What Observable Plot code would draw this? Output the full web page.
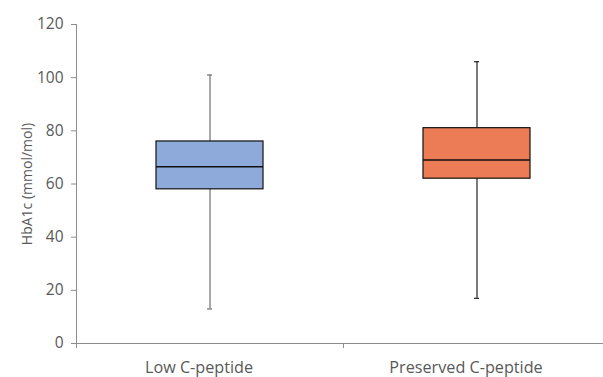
<!DOCTYPE html>
<html>
<head>
<meta charset="utf-8">
<script src="https://cdn.jsdelivr.net/npm/d3@7"></script>
<script src="https://cdn.jsdelivr.net/npm/@observablehq/plot@0.6"></script>
<style>
  html, body { margin: 0; padding: 0; background: #fff; overflow: hidden; }
  #chart { width: 603px; height: 377px; overflow: hidden; }
</style>
</head>
<body>
<div id="chart"></div>
<script>
const categories = ["Low C-peptide", "Preserved C-peptide"];
const minValues = [13, 17];
const q1Values = [58, 62];
const medianValues = [66.5, 69];
const q3Values = [76, 81];
const maxValues = [101, 106];
const colors = ["#8EAADB", "#EC7C55"];
const whiskerColors = ["#707070", "#202020"];
const yTicks = [0, 20, 40, 60, 80, 100, 120];
const yLabel = "HbA1c (mmol/mol)";

const data = categories.map((c, i) => ({
  cat: c, min: minValues[i], q1: q1Values[i], med: medianValues[i],
  q3: q3Values[i], max: maxValues[i], boxColor: colors[i], wcolor: whiskerColors[i]
}));

const axisColor = "#8C8C8C";
const textColor = "#595959";
const font = "'Open Sans', sans-serif";

const boundaryTicks = (index, scales, values, dimensions) => {
  const g = d3.create("svg:g");
  const x = scales.x;
  const yb = dimensions.height - dimensions.marginBottom;
  for (let i = 1; i < categories.length; i++) {
    const px = Math.round(x(categories[i])) + 0.5;
    g.append("line").attr("x1", px).attr("x2", px).attr("y1", yb).attr("y2", yb + 5)
      .attr("stroke", axisColor).attr("stroke-width", 1);
  }
  return g.node();
};

const plot = Plot.plot({
  width: 603,
  height: 377,
  marginLeft: 76,
  marginTop: 24,
  marginBottom: 34,
  marginRight: 0,
  style: { fontFamily: font, color: textColor, background: "#fff", overflow: "hidden" },
  x: { domain: categories, range: [76, 610], padding: 0 },
  y: { domain: [0, 120], ticks: yTicks },
  marks: [
    Plot.frame({ anchor: "left", stroke: axisColor, insetBottom: -4 }),
    Plot.ruleY([0], { stroke: axisColor }),
    boundaryTicks,
    Plot.ruleX(data, { x: "cat", y1: "min", y2: "q1", stroke: d => d.wcolor, strokeWidth: 1.2 }),
    Plot.ruleX(data, { x: "cat", y1: "q3", y2: "max", stroke: d => d.wcolor, strokeWidth: 1.2 }),
    Plot.tickY(data, { x: "cat", y: "min", stroke: d => d.wcolor, strokeWidth: 1.2, inset: 131 }),
    Plot.tickY(data, { x: "cat", y: "max", stroke: d => d.wcolor, strokeWidth: 1.2, inset: 131 }),
    Plot.rect(data, { x: "cat", y1: "q1", y2: "q3", fill: d => d.boxColor, stroke: "#111", strokeWidth: 1.2, insetLeft: 80, insetRight: 80 }),
    Plot.tickY(data, { x: "cat", y: "med", stroke: "#111", strokeWidth: 1.5, inset: 80 }),
    Plot.axisY({ ticks: yTicks, tickSize: 5, tickPadding: 8, stroke: axisColor, fill: textColor,
      fontSize: 15.5, label: null }),
    Plot.axisY({ ticks: [], tickSize: 0, fill: textColor, fontSize: 14,
      label: yLabel, labelAnchor: "center", labelArrow: "none", labelOffset: 54 }),
    Plot.axisX({ tickSize: 0, tickPadding: 18, fill: textColor, fontSize: 16.2, label: null, dx: -11 })
  ]
});

document.getElementById("chart").appendChild(plot);
</script>
</body>
</html>
